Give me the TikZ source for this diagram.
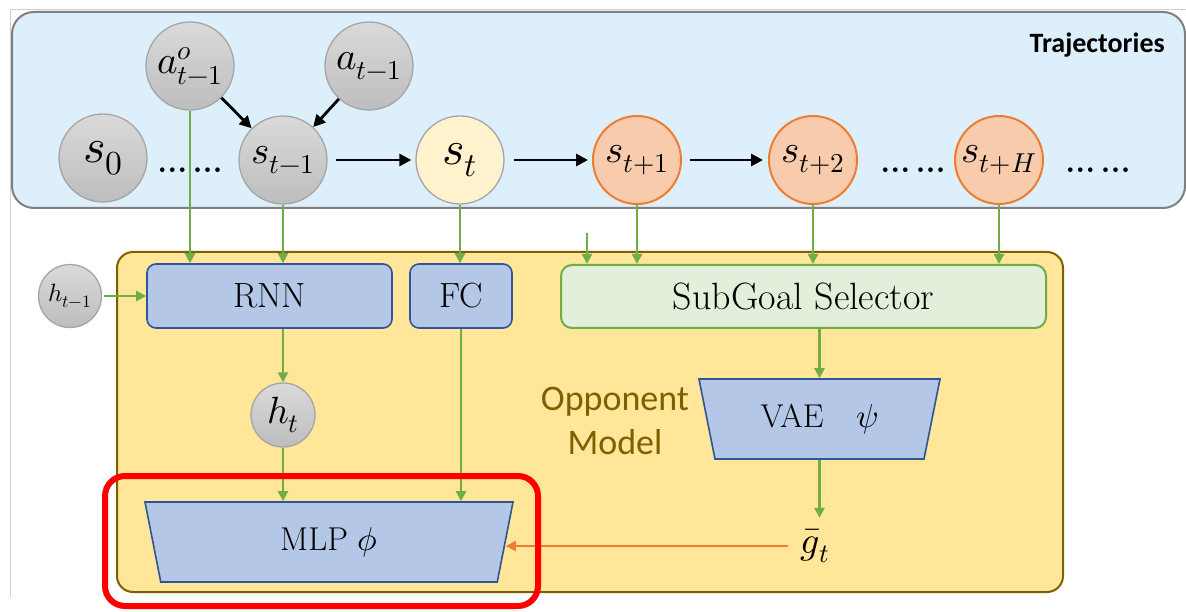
\documentclass[tikz,border=0pt]{standalone}
\usepackage{fontspec}
\usepackage{unicode-math}
\setmathfont{Latin Modern Math}
\newfontfamily\calibri{Carlito}
\usetikzlibrary{arrows.meta,shapes.geometric}
\definecolor{trajfill}{HTML}{DEEFFC}
\definecolor{trajborder}{HTML}{7F7F7F}
\definecolor{modelfill}{HTML}{FFE699}
\definecolor{modelborder}{HTML}{7F6000}
\definecolor{blockfill}{HTML}{B4C7E7}
\definecolor{blockborder}{HTML}{2F5597}
\definecolor{selfill}{HTML}{E2EFDA}
\definecolor{flowgreen}{HTML}{70AD47}
\definecolor{goalorange}{HTML}{ED7D31}
\definecolor{futfill}{HTML}{F8CBAD}
\definecolor{curfill}{HTML}{FFF2CC}
\definecolor{graytop}{HTML}{DADADA}
\definecolor{graybot}{HTML}{BDBDBD}
\definecolor{circborder}{HTML}{A5A5A5}
\definecolor{framegray}{HTML}{D0D0D0}
\begin{document}
\begin{tikzpicture}[x=1pt,y=-1pt,
  every node/.style={inner sep=0pt},
  garrow/.style={draw=flowgreen, line width=2.8pt, -{Triangle[length=10pt,width=10pt]}},
  karrow/.style={draw=black, line width=2.8pt, -{Triangle[length=12pt,width=12pt]}},
  oarrow/.style={draw=goalorange, line width=2.8pt, -{Triangle[length=10pt,width=10pt]}},
  statenode/.style={circle, minimum size=88pt, line width=1.3pt, font=\fontsize{39}{42}\selectfont},
  graystate/.style={statenode, draw=circborder, top color=graytop, bottom color=graybot},
  curstate/.style={statenode, draw=circborder, fill=curfill},
  futstate/.style={statenode, draw=goalorange, fill=futfill, line width=2pt},
  block/.style={rectangle, rounded corners=9pt, draw=blockborder, fill=blockfill, line width=1.6pt, font=\fontsize{35}{40}\selectfont},
  selbox/.style={rectangle, rounded corners=11pt, draw=flowgreen, fill=selfill, line width=2pt, font=\fontsize{38}{42}\selectfont},
  trapbox/.style={trapezium, trapezium stretches body, shape border rotate=180, trapezium left angle=62, trapezium right angle=62, draw=blockborder, fill=blockfill, line width=1.6pt, font=\fontsize{33}{38}\selectfont},
  dotsnode/.style={font=\bfseries\fontsize{32}{36}\selectfont},
]
\useasboundingbox (0,0) rectangle (1186,612);

% page frame
\draw[framegray, line width=0.8pt] (10,597) -- (10,9) -- (1186,9);

% trajectory panel
\draw[fill=trajfill, draw=trajborder, line width=2pt, rounded corners=22pt] (12,12) rectangle (1185,208);
\node[font=\calibri\bfseries\fontsize{28}{30}\selectfont, anchor=east] (traj) at (1165,45) {Trajectories};

% opponent model panel
\draw[fill=modelfill, draw=modelborder, line width=2pt, rounded corners=16pt] (117,252) rectangle (1063,592);
\node[font=\calibri\fontsize{36}{44}\selectfont, text=modelborder, align=center] (om) at (615,421) {Opponent\\Model};

% states and actions
\node[graystate] (ao) at (190,66) {$a^{o}_{t-1}$};
\node[graystate] (a) at (369,66) {$a_{t-1}$};
\node[graystate, font=\fontsize{48}{50}\selectfont] (s0) at (103,158) {$s_0$};
\node[graystate] (sm) at (283,160) {$s_{t-1}$};
\node[curstate, font=\fontsize{48}{50}\selectfont] (st) at (460,160) {$s_t$};
\node[futstate] (s1) at (637,160) {$s_{t+1}$};
\node[futstate] (s2) at (813,160) {$s_{t+2}$};
\node[futstate] (sH) at (999,160) {$s_{t+H}$};
\node[dotsnode] (d1) at (190,170) {...\,...};
\node[dotsnode] (d2) at (913,170) {...\,...};
\node[dotsnode] (d3) at (1098,170) {...\,...};

\draw[karrow] (ao) -- (sm);
\draw[karrow] (a) -- (sm);
\draw[karrow, shorten <=8pt, shorten >=4pt] (sm) -- (st);
\draw[karrow, shorten <=9pt, shorten >=4pt] (st) -- (s1);
\draw[karrow, shorten <=8pt, shorten >=5pt] (s1) -- (s2);

% model blocks
\node[block, minimum width=245pt, minimum height=64pt] (rnn) at (269.5,296) {RNN};
\node[block, minimum width=102pt, minimum height=64pt] (fc) at (461,296) {FC};
\node[selbox, minimum width=485pt, minimum height=63pt] (sub) at (803.5,296.5) {SubGoal Selector};
\node[graystate, minimum size=63pt, font=\fontsize{25}{28}\selectfont] (hprev) at (70,296) {$h_{t-1}$};
\node[graystate, minimum size=64pt, font=\fontsize{38}{40}\selectfont] (ht) at (283,415) {$h_t$};
\node[trapbox, minimum width=368pt, minimum height=80pt] (mlp) at (329,542) {MLP $\phi$};
\node[trapbox, minimum width=241pt, minimum height=80pt] (vae) at (819.5,419) {VAE\quad$\psi$};
\node[font=\fontsize{38}{40}\selectfont, inner sep=3pt] (gt) at (815,546) {$\bar{g}_t$};
\coordinate (extra) at (587,233);

% information flow
\draw[garrow] (ao.south) -- (ao.south |- rnn.north);
\draw[garrow] (sm.south) -- (sm.south |- rnn.north);
\draw[garrow] (st.south) -- (st.south |- fc.north);
\draw[garrow] (extra) -- (extra |- sub.north);
\draw[garrow] (s1.south) -- (s1.south |- sub.north);
\draw[garrow] (s2.south) -- (s2.south |- sub.north);
\draw[garrow] (sH.south) -- (sH.south |- sub.north);
\draw[garrow, shorten <=2pt] (hprev) -- (rnn);
\draw[garrow] (ht |- rnn.south) -- (ht.north);
\draw[garrow] (ht.south) -- (ht |- mlp.north);
\draw[garrow] (fc.south) -- (fc |- mlp.north);
\draw[garrow] (vae.north |- sub.south) -- (vae.north);
\draw[garrow, shorten >=8pt] (vae.south) -- (vae.south |- gt.north);
\draw[oarrow, shorten <=10pt] (gt.west) -- (gt.west -| mlp.east);

% highlight
\draw[red, line width=6pt, rounded corners=20pt] (105,476) rectangle (538,606);
\end{tikzpicture}
\end{document}
